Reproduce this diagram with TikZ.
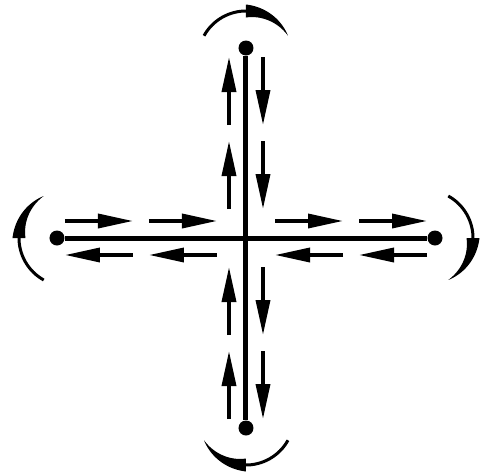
\documentclass[tikz,border=0pt]{standalone}
\usetikzlibrary{arrows.meta}
\begin{document}
\begin{tikzpicture}[x=1pt,y=1pt,
  dot/.style={circle, fill=black, inner sep=0pt, minimum size=15pt},
  axisline/.style={line width=5pt},
  flow/.style={line width=3.5pt, -{Triangle[length=35pt,width=14pt]}},
  rotarc/.style={line width=3pt},
]
\useasboundingbox (-246,-237) rectangle (244,238);
\coordinate (c) at (0,0);
\node[dot] (dT) at (0,190) {};
\node[dot] (dB) at (0,-190) {};
\node[dot] (dL) at (-189,0) {};
\node[dot] (dR) at (189,0) {};
\draw[axisline] (dT) -- (dB);
\draw[axisline] (dL) -- (dR);
\foreach \r/\n in {0/T,-90/R,-180/B,-270/L}{
  \begin{scope}[rotate=\r]
    \coordinate (oa\n) at (-17,29);  \coordinate (ob\n) at (-17,97);
    \coordinate (oc\n) at (-17,113); \coordinate (od\n) at (-17,181);
    \coordinate (ia\n) at (17,181);  \coordinate (ib\n) at (17,113);
    \coordinate (ic\n) at (17,97);   \coordinate (id\n) at (17,29);
    \draw[flow] (oa\n) -- (ob\n);
    \draw[flow] (oc\n) -- (od\n);
    \draw[flow] (ia\n) -- (ib\n);
    \draw[flow] (ic\n) -- (id\n);
    \coordinate (k\n) at (0,179);
    \draw[rotarc] (k\n) ++(151:48) arc[start angle=151,end angle=88,radius=48];
    \fill[shift={(0,179)}] plot[domain=90:29,samples=30] (\x:{48+6.5*(\x-29)/61})
       -- plot[domain=29:90,samples=30] (\x:{48-6.5*(\x-29)/61}) -- cycle;
  \end{scope}
}
\end{tikzpicture}
\end{document}
